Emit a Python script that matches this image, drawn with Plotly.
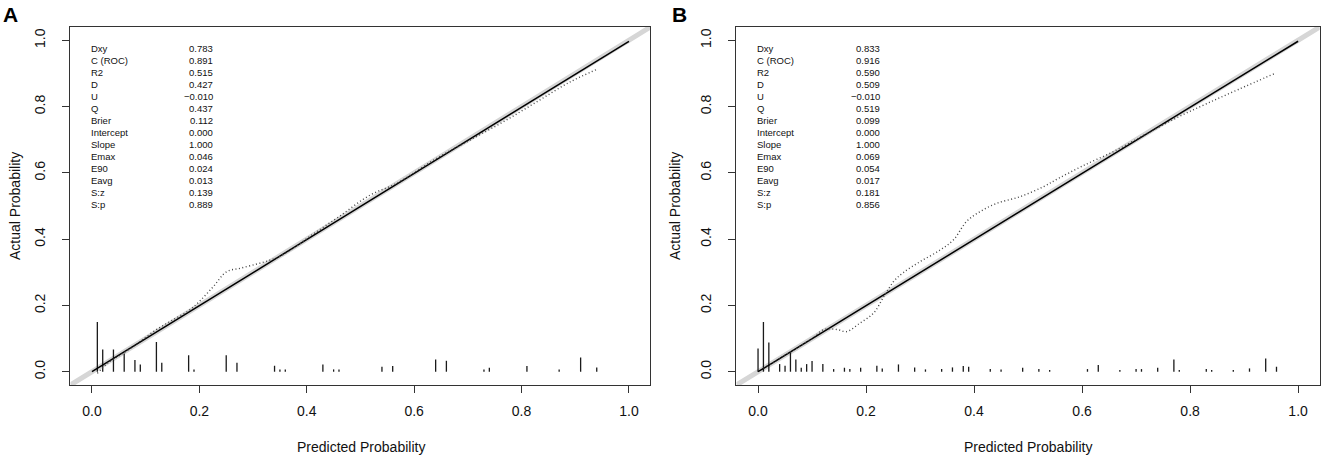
import plotly.graph_objects as go
from plotly.subplots import make_subplots

# calibration curves (apparent, dotted)
app_a_x = [0.01, 0.03, 0.06, 0.09, 0.12, 0.15, 0.18, 0.20, 0.226, 0.251, 0.276, 0.307, 0.332, 0.357,
           0.41, 0.46, 0.518, 0.567, 0.642, 0.704, 0.766, 0.828, 0.89, 0.94]
app_a_y = [-0.005, 0.027, 0.058, 0.092, 0.127, 0.156, 0.184, 0.212, 0.257, 0.302, 0.312, 0.325, 0.337, 0.354,
           0.413, 0.468, 0.533, 0.568, 0.644, 0.699, 0.754, 0.814, 0.874, 0.912]

app_b_x = [0.01, 0.05, 0.10, 0.121, 0.136, 0.150, 0.164, 0.189, 0.214, 0.233, 0.251, 0.269, 0.300, 0.337,
           0.362, 0.386, 0.411, 0.442, 0.485, 0.528, 0.556, 0.600, 0.664, 0.726, 0.780, 0.831, 0.890, 0.957]
app_b_y = [0.01, 0.05, 0.10, 0.127, 0.129, 0.126, 0.121, 0.147, 0.177, 0.227, 0.272, 0.299, 0.332, 0.367,
           0.398, 0.453, 0.483, 0.508, 0.528, 0.558, 0.583, 0.620, 0.669, 0.724, 0.770, 0.809, 0.852, 0.900]

# bias-corrected (solid) and ideal (thick gray) lines
corr_x = [0.0, 1.0]
corr_y = [0.0, 0.997]
ideal = [-0.04, 1.04]

# spike histogram of predicted probabilities
rug_a_x = [0.01, 0.02, 0.04, 0.06, 0.08, 0.09, 0.12, 0.13, 0.18, 0.19, 0.25, 0.27, 0.34, 0.35,
           0.36, 0.43, 0.45, 0.46, 0.54, 0.56, 0.64, 0.66, 0.73, 0.74, 0.81, 0.87, 0.91, 0.94]
rug_a_h = [0.15, 0.067, 0.067, 0.055, 0.035, 0.022, 0.09, 0.027, 0.05, 0.007, 0.05, 0.027, 0.018, 0.007,
           0.007, 0.022, 0.007, 0.007, 0.015, 0.017, 0.037, 0.033, 0.007, 0.012, 0.017, 0.007, 0.043, 0.013]

rug_b_x = [0.00, 0.01, 0.02, 0.04, 0.05, 0.06, 0.07, 0.08, 0.09, 0.10, 0.12, 0.14, 0.16, 0.17, 0.19,
           0.22, 0.23, 0.26, 0.29, 0.31, 0.34, 0.36, 0.38, 0.39, 0.43, 0.45, 0.49, 0.52, 0.54, 0.61,
           0.63, 0.67, 0.70, 0.71, 0.74, 0.77, 0.78, 0.83, 0.84, 0.88, 0.91, 0.94, 0.96]
rug_b_h = [0.07, 0.15, 0.088, 0.023, 0.018, 0.058, 0.037, 0.012, 0.023, 0.032, 0.023, 0.008, 0.012, 0.008, 0.012,
           0.018, 0.01, 0.022, 0.013, 0.007, 0.008, 0.013, 0.017, 0.015, 0.008, 0.007, 0.012, 0.008, 0.005, 0.008,
           0.02, 0.005, 0.008, 0.008, 0.012, 0.037, 0.005, 0.008, 0.005, 0.005, 0.01, 0.04, 0.015]

stat_names = ["Dxy", "C (ROC)", "R2", "D", "U", "Q", "Brier", "Intercept", "Slope",
              "Emax", "E90", "Eavg", "S:z", "S:p"]
stats_a = ["0.783", "0.891", "0.515", "0.427", "\u22120.010", "0.437", "0.112", "0.000", "1.000",
           "0.046", "0.024", "0.013", "0.139", "0.889"]
stats_b = ["0.833", "0.916", "0.590", "0.509", "\u22120.010", "0.519", "0.099", "0.000", "1.000",
           "0.069", "0.054", "0.017", "0.181", "0.856"]

ticks = [0.0, 0.2, 0.4, 0.6, 0.8, 1.0]
tick_text = ["0.0", "0.2", "0.4", "0.6", "0.8", "1.0"]

FONT = "Liberation Sans, Arial, sans-serif"

fig = make_subplots(rows=1, cols=2)


def spikes(xs, hs):
    sx, sy = [], []
    for x, h in zip(xs, hs):
        sx += [x, x, None]
        sy += [0, h, None]
    return sx, sy


panels = [
    (1, app_a_x, app_a_y, rug_a_x, rug_a_h, stats_a),
    (2, app_b_x, app_b_y, rug_b_x, rug_b_h, stats_b),
]

for col, ax, ay, rx, rh, stats in panels:
    fig.add_trace(go.Scatter(x=ideal, y=ideal, mode="lines",
                             line=dict(color="#d6d6d6", width=5)), row=1, col=col)
    sx, sy = spikes(rx, rh)
    fig.add_trace(go.Scatter(x=sx, y=sy, mode="lines",
                             line=dict(color="#1a1a1a", width=1.3)), row=1, col=col)
    fig.add_trace(go.Scatter(x=corr_x, y=corr_y, mode="lines",
                             line=dict(color="black", width=1.5)), row=1, col=col)
    fig.add_trace(go.Scatter(x=ax, y=ay, mode="lines",
                             line=dict(color="#444444", width=1.4, dash="1px,2.5px", shape="spline")),
                  row=1, col=col)

    xr = "x" if col == 1 else "x2"
    yr = "y" if col == 1 else "y2"
    for i, (name, val) in enumerate(zip(stat_names, stats)):
        yy = 0.975 - i * 0.0363
        fig.add_annotation(x=-0.005, y=yy, xref=xr, yref=yr, text=name, showarrow=False,
                           xanchor="left", yanchor="middle",
                           font=dict(family=FONT, size=9.5, color="#111"))
        fig.add_annotation(x=0.229, y=yy, xref=xr, yref=yr, text=val, showarrow=False,
                           xanchor="right", yanchor="middle",
                           font=dict(family=FONT, size=9.5, color="#111"))

axis_style = dict(
    range=[-0.04, 1.04], tickvals=ticks, ticktext=tick_text,
    showgrid=False, zeroline=False, showline=True, mirror=True,
    linecolor="#333", linewidth=1, ticks="outside", ticklen=7,
    tickcolor="#333", tickwidth=1, automargin=False,
    tickfont=dict(family=FONT, size=14, color="#111"),
)

fig.update_xaxes(**axis_style, ticklabelstandoff=6)
fig.update_yaxes(**axis_style, tickangle=-90, ticklabelstandoff=12)

fig.update_layout(
    xaxis=dict(domain=[0.0532, 0.4909]),
    xaxis2=dict(domain=[0.5558, 0.9960]),
    yaxis=dict(domain=[0.1649, 0.9414]),
    yaxis2=dict(domain=[0.1649, 0.9414]),
    width=1325,
    height=461,
    autosize=False,
    showlegend=False,
    plot_bgcolor="white",
    paper_bgcolor="white",
    margin=dict(l=0, r=0, t=0, b=0),
)

# axis titles and panel letters
for xc, tx in [(360.5 / 1325, 15 / 1325), (1028 / 1325, 675 / 1325)]:
    fig.add_annotation(x=xc, y=1 - 447 / 461, xref="paper", yref="paper",
                       text="Predicted Probability", showarrow=False,
                       xanchor="center", yanchor="middle",
                       font=dict(family=FONT, size=14, color="#111"))
    fig.add_annotation(x=tx, y=1 - 206 / 461, xref="paper", yref="paper",
                       text="Actual Probability", showarrow=False, textangle=-90,
                       xanchor="center", yanchor="middle",
                       font=dict(family=FONT, size=14, color="#111"))

for letter, lx in [("A", 10 / 1325), ("B", 679 / 1325)]:
    fig.add_annotation(x=lx, y=1 - 14 / 461, xref="paper", yref="paper",
                       text="<b>" + letter + "</b>", showarrow=False,
                       xanchor="center", yanchor="middle",
                       font=dict(family=FONT, size=21, color="black"))

fig.write_html("out.html", config={"displayModeBar": False},
               post_script="document.body.style.margin='0px';")
